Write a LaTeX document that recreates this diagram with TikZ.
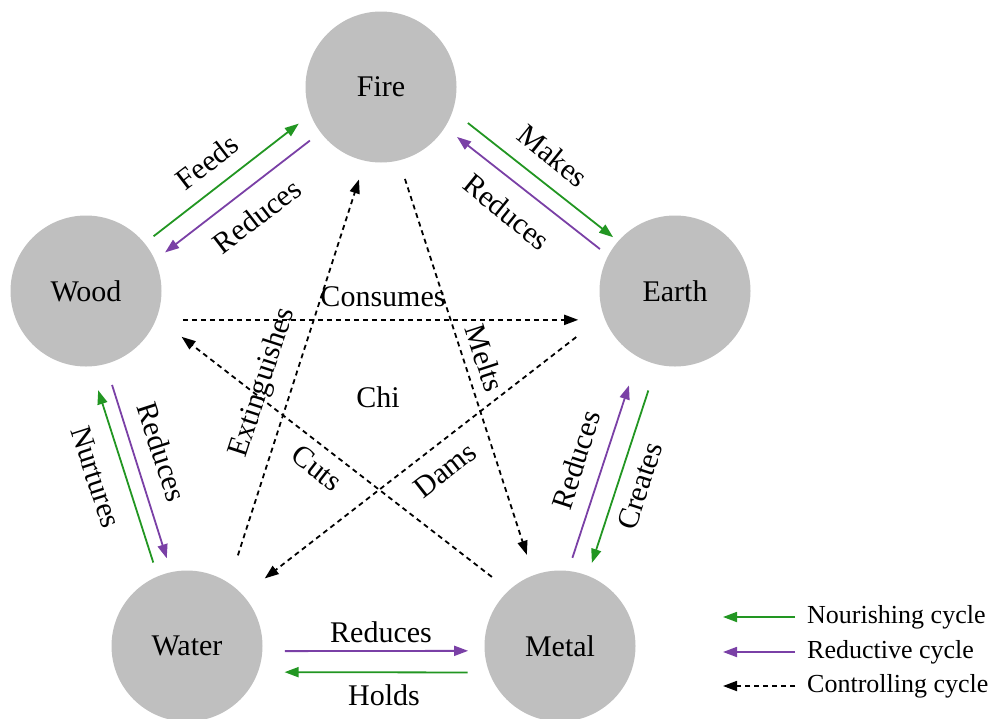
\documentclass[tikz,border=0pt]{standalone}
\usepackage{fontspec}
\setmainfont{Liberation Serif}
\usetikzlibrary{arrows.meta,calc}
\definecolor{nourgreen}{RGB}{34,150,34}
\definecolor{redpurple}{RGB}{122,64,166}
\definecolor{elemgray}{RGB}{191,191,191}
\begin{document}
\begin{tikzpicture}[x=1pt,y=-1pt,
  element/.style={circle,fill=elemgray,minimum size=151pt,inner sep=0pt,
    font=\fontsize{30}{36}\selectfont},
  lbl/.style={font=\fontsize{30}{36}\selectfont,inner sep=0pt},
  legtext/.style={font=\fontsize{26}{31}\selectfont,anchor=west,inner sep=0pt},
  tipped/.style={-{Triangle[length=14pt,width=10pt]}},
  nour/.style={tipped,draw=nourgreen,line width=1.8pt},
  redu/.style={tipped,draw=redpurple,line width=1.8pt},
  ctrl/.style={tipped,draw=black,line width=1.8pt,dash pattern=on 5pt off 4pt}]
\useasboundingbox (0,0) rectangle (998,718);

% the five elements (y grows downwards, so polar angles are clockwise)
\node[element] (fire)  at (381,87)  {Fire};
\node[element] (wood)  at (86,291)  {Wood};
\node[element] (earth) at (675,291) {Earth};
\node[element] (water) at (187,646) {Water};
\node[element] (metal) at (560,646) {Metal};

% nourishing and reductive pairs along the outer ring
\draw[nour] ($(wood)+(-39:87)$)    -- ($(fire)+(156:90)$);
\draw[redu] ($(fire)+(143:89)$)    -- ($(wood)+(-26:88)$);
\draw[nour] ($(fire)+(22.5:94)$)   -- ($(earth)+(-139:82)$);
\draw[redu] ($(earth)+(-150.8:86)$) -- ($(fire)+(33.3:91)$);
\draw[redu] ($(metal)+(-82:89)$)   -- ($(earth)+(116:105)$);
\draw[nour] ($(earth)+(105:103)$)  -- ($(metal)+(-69:89)$);
\draw[nour] ($(water)+(-112:90)$)  -- ($(wood)+(83:100)$);
\draw[redu] ($(wood)+(74.5:97.5)$) -- ($(water)+(-103:90)$);
\draw[redu] ($(water)+(3:98)$)     -- ($(metal)+(-183:92)$);
\draw[nour] ($(metal)+(-196:96)$)  -- ($(water)+(15:101)$);

% controlling cycle (the star)
\draw[ctrl] ($(wood)+(16.6:101)$)   -- ($(earth)+(-196.6:101)$);
\draw[ctrl] ($(fire)+(75.4:95)$)    -- ($(metal)+(-110:97)$);
\draw[ctrl] ($(earth)+(-205:109)$)  -- ($(water)+(-41:103)$);
\draw[ctrl] ($(metal)+(-134.6:97)$) -- ($(wood)+(25.6:106)$);
\draw[ctrl] ($(water)+(-60.7:104)$) -- ($(fire)+(103.4:95)$);

% labels of the outer ring
\node[lbl,rotate=37.5] (lfeeds)  at (207,162) {Feeds};
\node[lbl,rotate=37.5] (lredwf)  at (257,216) {Reduces};
\node[lbl,rotate=-39]  (lmakes)  at (553,156) {Makes};
\node[lbl,rotate=-39]  (lredfe)  at (507,212) {Reduces};
\node[lbl,rotate=72]   (lredem)  at (576,460) {Reduces};
\node[lbl,rotate=72]   (lcreate) at (640,486) {Creates};
\node[lbl,rotate=-72]  (lnurt)   at (96,477)  {Nurtures};
\node[lbl,rotate=-72]  (lredwwa) at (162,452) {Reduces};
\node[lbl] (lredwam) at (381,632) {Reduces};
\node[lbl] (lholds)  at (384,695) {Holds};

% labels of the star
\node[lbl] (lcons) at (383,297) {Consumes};
\node[lbl,rotate=-72] (lmelts) at (485,358) {Melts};
\node[lbl,rotate=38]  (ldams)  at (445,470) {Dams};
\node[lbl,rotate=-38] (lcuts)  at (317,468) {Cuts};
\node[lbl,rotate=72]  (lext)   at (263,383) {Extinguishes};
\node[lbl] (chi) at (378,397) {Chi};

% legend
\coordinate (lgna) at (795,617); \coordinate (lgnb) at (723,617);
\coordinate (lgra) at (795,652); \coordinate (lgrb) at (723,652);
\coordinate (lgca) at (795,686); \coordinate (lgcb) at (723,686);
\draw[nour] (lgna) -- (lgnb);
\draw[redu] (lgra) -- (lgrb);
\draw[ctrl] (lgca) -- (lgcb);
\node[legtext] (lgnt) at (807,617) {Nourishing cycle};
\node[legtext] (lgrt) at (807,652) {Reductive cycle};
\node[legtext] (lgct) at (807,686) {Controlling cycle};
\end{tikzpicture}
\end{document}
